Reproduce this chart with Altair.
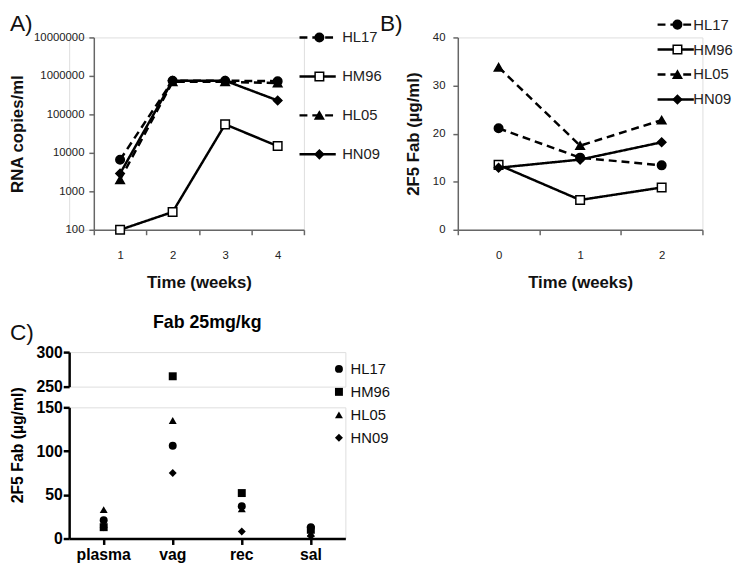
import altair as alt
import pandas as pd

FONT = "Liberation Sans"

# ---------------- data ----------------
series = ["HL17", "HM96", "HL05", "HN09"]
shapes = ["circle", "square", "triangle-up", "diamond"]
fills = ["black", "white", "black", "black"]
dashes = [[8, 5], [1, 0], [8, 5], [1, 0]]

weeks_a = [1, 2, 3, 4]
rna_hl17 = [6600, 750000, 750000, 730000]
rna_hm96 = [100, 290, 55000, 15000]
rna_hl05 = [2000, 700000, 700000, 650000]
rna_hn09 = [2900, 750000, 750000, 230000]

weeks_b = [0, 1, 2]
fab_hl17 = [21.1, 15.0, 13.4]
fab_hm96 = [13.5, 6.2, 8.8]
fab_hl05 = [33.8, 17.5, 22.8]
fab_hn09 = [12.9, 14.6, 18.2]

sites = ["plasma", "vag", "rec", "sal"]
site_hl17 = [21, 106, 37, 13]
site_hm96 = [13, 265, 52, 10]
site_hl05 = [33, 135, 34, 6]
site_hn09 = [13, 75, 8, 3]

# line-legend keys carry a trailing space so that Vega-Lite keeps the
# line legend apart from the marker legend
series_line = [s + " " for s in series]


def long_df(xs, cols, xname):
    rows = []
    for s, sl, vals in zip(series, series_line, cols):
        for x, v in zip(xs, vals):
            rows.append({xname: x, "value": v, "sl": sl, "sp": s})
    return pd.DataFrame(rows)


df_a = long_df(weeks_a, [rna_hl17, rna_hm96, rna_hl05, rna_hn09], "week")
df_b = long_df(weeks_b, [fab_hl17, fab_hm96, fab_hl05, fab_hn09], "week")
df_c = long_df(sites, [site_hl17, site_hm96, site_hl05, site_hn09], "site")

GRAY = "#666666"
LINE_SYM = "M-3,0H3"
SHIFT_A = 25  # panel A's plot starts 25px right of panel C's

shape_scale = alt.Scale(domain=series, range=shapes)
fill_scale = alt.Scale(domain=series, range=fills)
stroke_scale = alt.Scale(domain=series, range=["black"] * 4)
dash_scale = alt.Scale(domain=series_line, range=dashes)


def excel_axis(title, **kw):
    return alt.Axis(
        title=title, grid=False, labelAngle=0,
        domainColor=GRAY, tickColor=GRAY, domainWidth=1.5, tickWidth=1.5, tickSize=5,
        labelFont=FONT, labelFontSize=11.5, labelColor="#222222",
        titleFont=FONT, titleFontSize=17, titleFontWeight="bold", titleColor="#111111",
        **kw,
    )


def line_panel(df, xscale, yscale, yaxis, xaxis, width, height, lx, ly, rowpad, loff, title):
    x = alt.X("week:O", scale=xscale, axis=xaxis)
    y = alt.Y("value:Q", scale=yscale, axis=yaxis)
    line_legend = alt.Legend(
        title=None, orient="none", legendX=lx, legendY=ly, padding=0,
        symbolType=LINE_SYM, symbolSize=150, symbolStrokeColor="black", symbolStrokeWidth=2.5,
        labelFont=FONT, labelFontSize=15, labelColor="#222222", labelOffset=loff, rowPadding=rowpad,
    )
    pt_legend = alt.Legend(
        title=None, orient="none", legendX=lx + 6.1 - 4.33, legendY=ly, padding=0,
        symbolSize=75, symbolStrokeColor="black", symbolStrokeWidth=1.5,
        labelFont=FONT, labelFontSize=15, labelExpr="''", labelOffset=loff, rowPadding=rowpad,
    )
    lines = alt.Chart(df).mark_line(color="black", strokeWidth=2.5).encode(
        x=x, y=y,
        strokeDash=alt.StrokeDash("sl:N", scale=dash_scale, legend=line_legend),
    )
    pts = alt.Chart(df).mark_point(filled=True, strokeWidth=1.5, size=75, opacity=1).encode(
        x=x, y=y,
        shape=alt.Shape("sp:N", scale=shape_scale, legend=pt_legend),
        fill=alt.Fill("sp:N", scale=fill_scale, legend=pt_legend),
        stroke=alt.Stroke("sp:N", scale=stroke_scale, legend=pt_legend),
    )
    return alt.layer(lines, pts).properties(width=width, height=height, title=title)


chart_a = line_panel(
    df_a,
    alt.Scale(type="band", domain=weeks_a, paddingInner=0, paddingOuter=0,
              range=[SHIFT_A, SHIFT_A + 213]),
    alt.Scale(type="log", domain=[100, 10000000], nice=False),
    excel_axis("RNA copies/ml", values=[100, 1000, 10000, 100000, 1000000, 10000000], format="d",
               labelPadding=5, titlePadding=7, offset=-SHIFT_A),
    excel_axis("Time (weeks)", tickBand="extent", labelPadding=15, titlePadding=14),
    SHIFT_A + 213, 195, SHIFT_A + 219.4, -7.5, 23.5, 17.4,
    alt.TitleParams("A)", anchor="start", frame="group", dx=-60, offset=-5.5,
                    font=FONT, fontSize=23, fontWeight="normal", color="#111111"),
)

chart_b = line_panel(
    df_b,
    alt.Scale(type="band", domain=weeks_b, paddingInner=0, paddingOuter=0),
    alt.Scale(domain=[0, 40], nice=False),
    excel_axis("2F5 Fab (µg/ml)", values=[0, 10, 20, 30, 40], labelPadding=8, titlePadding=10),
    excel_axis("Time (weeks)", tickBand="extent", labelPadding=15, titlePadding=14),
    248, 195, 213.4, -20.5, 9.3, 10.4,
    alt.TitleParams("B)", anchor="start", frame="group", dx=-79, offset=-18.5,
                    font=FONT, fontSize=23, fontWeight="normal", color="#111111"),
)


def prism_axis(title, **kw):
    return alt.Axis(
        title=title, grid=False, labelAngle=0,
        domainColor="black", tickColor="black", domainWidth=2.5, tickWidth=2.5, tickSize=6,
        labelFont=FONT, labelFontSize=16, labelFontWeight="bold", labelColor="black",
        titleFont=FONT, titleFontSize=16, titleFontWeight="bold", titleColor="black",
        **kw,
    )


xc_scale = alt.Scale(type="band", domain=sites, paddingInner=0, paddingOuter=0)
c_legend = alt.Legend(
    title=None, orient="none", legendX=266, legendY=9.5, padding=0,
    symbolSize=65, symbolFillColor="black", symbolStrokeColor="black",
    labelFont=FONT, labelFontSize=15, labelColor="#111111", labelOffset=4.3, rowPadding=7.3,
)

c_up = alt.Chart(df_c).transform_filter("datum.value >= 250").mark_point(
    filled=True, color="black", size=65, opacity=1
).encode(
    x=alt.X("site:N", scale=xc_scale, axis=None),
    y=alt.Y("value:Q", scale=alt.Scale(domain=[250, 300], nice=False),
            axis=prism_axis(None, values=[250, 300], labelPadding=1)),
    shape=alt.Shape("sp:N", scale=shape_scale, legend=c_legend),
).properties(
    width=280, height=35,
    title=alt.TitleParams("Fab 25mg/kg", anchor="middle", frame="group", offset=12,
                          font=FONT, fontSize=18, fontWeight="bold", color="black"),
)

c_low = alt.Chart(df_c).transform_filter("datum.value <= 150").mark_point(
    filled=True, color="black", size=65, opacity=1
).encode(
    x=alt.X("site:N", scale=xc_scale,
            axis=prism_axis(None, labelPadding=2)),
    y=alt.Y("value:Q", scale=alt.Scale(domain=[0, 150], nice=False),
            axis=prism_axis("2F5 Fab (µg/ml)", values=[0, 50, 100, 150], labelPadding=1,
                            titlePadding=11, titleY=38)),
    shape=alt.Shape("sp:N", scale=shape_scale, legend=None),
).properties(width=280, height=133)


def indep(c):
    return c.resolve_scale(shape="independent", fill="independent", stroke="independent",
                           strokeDash="independent")


row_ab = indep(alt.hconcat(chart_a, chart_b, spacing=156, bounds="flush"))
row_c = indep(alt.vconcat(
    c_up, c_low, spacing=21, bounds="flush",
    title=alt.TitleParams("C)", anchor="start", frame="group", dx=-60, offset=-31,
                          font=FONT, fontSize=23, fontWeight="normal", color="#111111"),
))

chart = indep(alt.concat(row_ab, row_c, columns=1, align="none", spacing=23)).properties(
    padding=0
).configure_view(stroke=None).configure(font=FONT)

chart.save("out.html", embed_options={"renderer": "svg", "actions": False})
